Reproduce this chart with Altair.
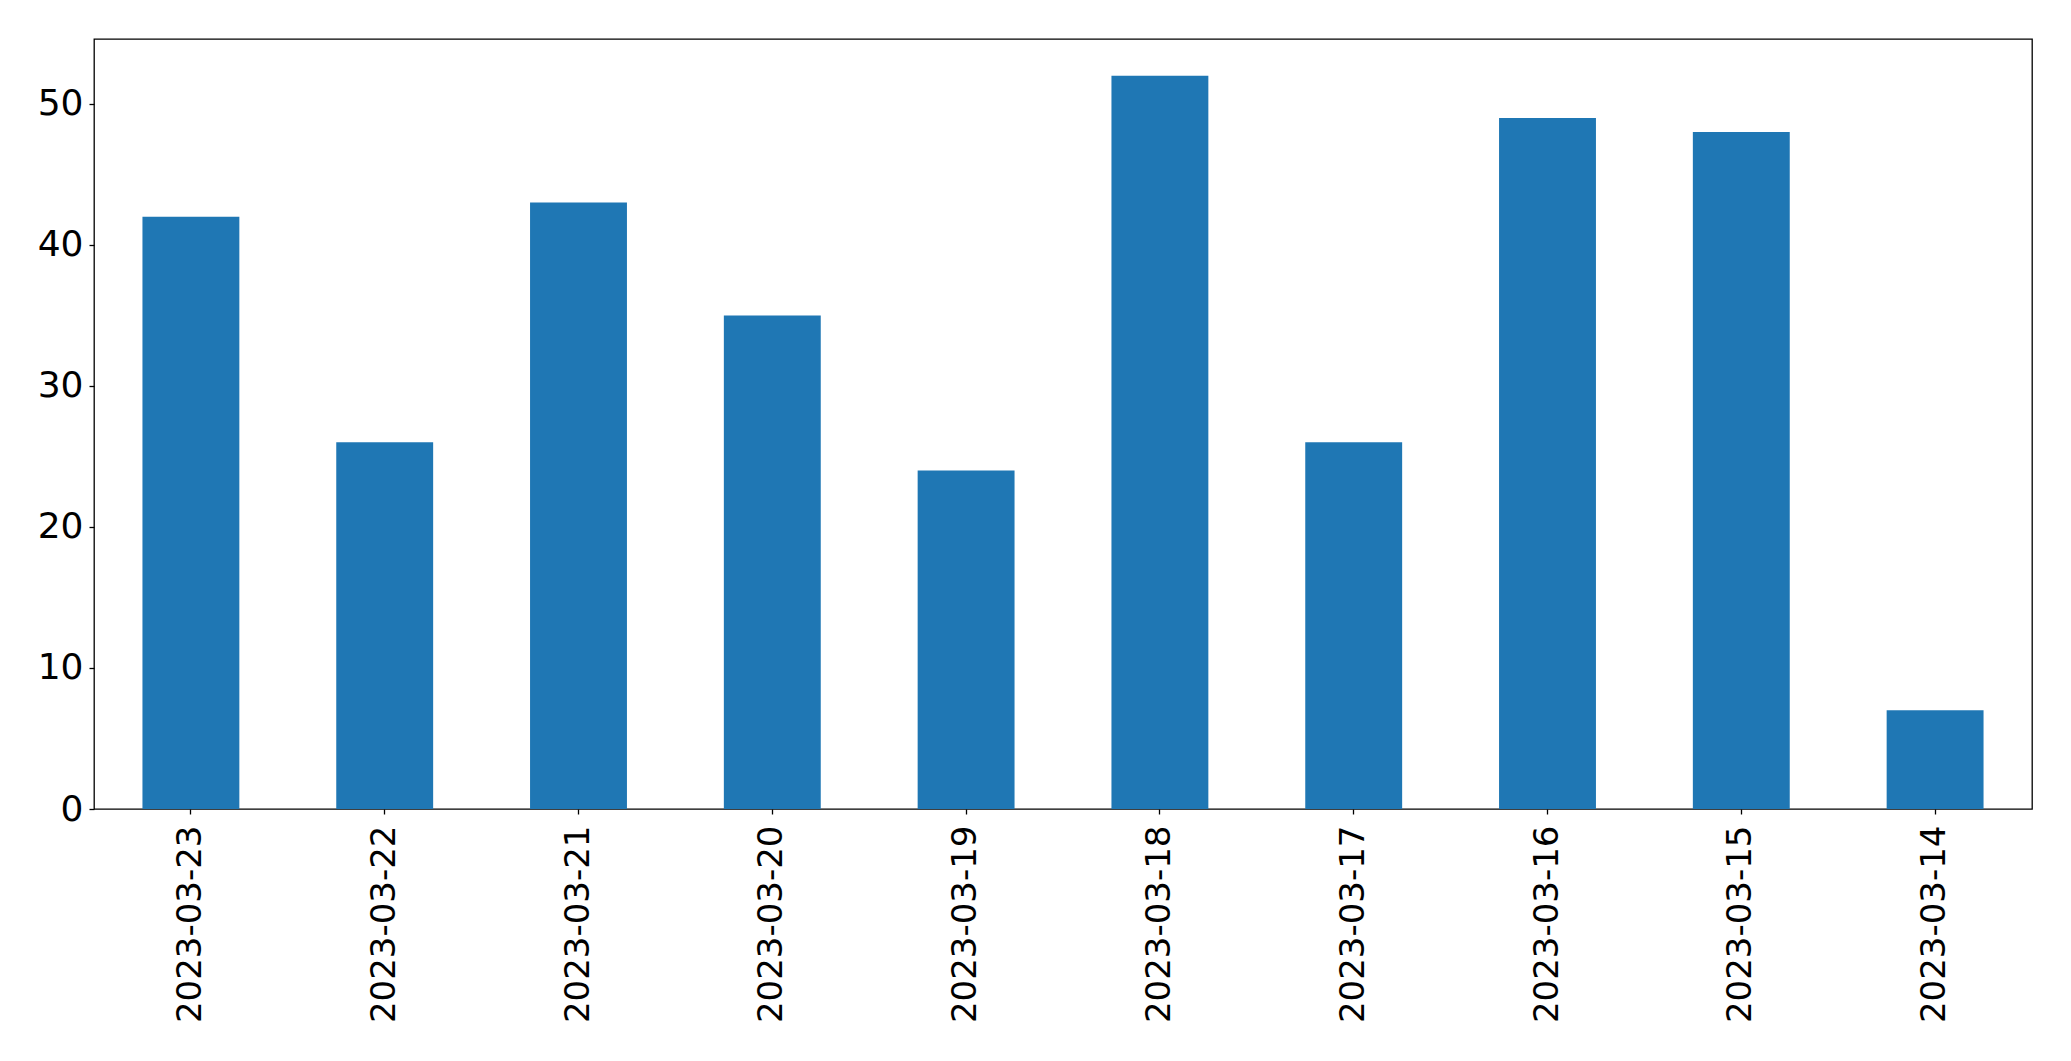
import altair as alt
import pandas as pd

dates = ["2023-03-23", "2023-03-22", "2023-03-21", "2023-03-20", "2023-03-19",
         "2023-03-18", "2023-03-17", "2023-03-16", "2023-03-15", "2023-03-14"]
counts = [42, 26, 43, 35, 24, 52, 26, 49, 48, 7]
y_ticks = [0, 10, 20, 30, 40, 50]

df = pd.DataFrame({"date": dates, "count": counts})

chart = alt.Chart(df).mark_bar(color="#1f77b4").encode(
    x=alt.X("date:N", sort=dates,
            scale=alt.Scale(paddingInner=0.5, paddingOuter=0.25),
            axis=alt.Axis(title=None, labelAngle=270, labelAlign="right",
                          labelBaseline="middle", labelPadding=11, labelLimit=1000,
                          labelFontSize=34)),
    y=alt.Y("count:Q", scale=alt.Scale(domain=[0, 54.6], nice=False, zero=True),
            axis=alt.Axis(title=None, values=y_ticks, grid=False, labelPadding=6,
                          labelFontSize=36)),
).properties(
    width=1938, height=770,
    background="white",
    autosize=alt.AutoSizeParams(type="none"),
    padding={"left": 86, "top": 31, "right": 30, "bottom": 250},
).configure_view(
    stroke="black", strokeWidth=1.3, strokeOpacity=1
).configure_axis(
    labelFont="DejaVu Sans", labelColor="black",
    domain=False, tickColor="black", tickSize=5, tickWidth=1.3,
)

chart.save("out.html", embed_options={"renderer": "svg", "actions": False})
